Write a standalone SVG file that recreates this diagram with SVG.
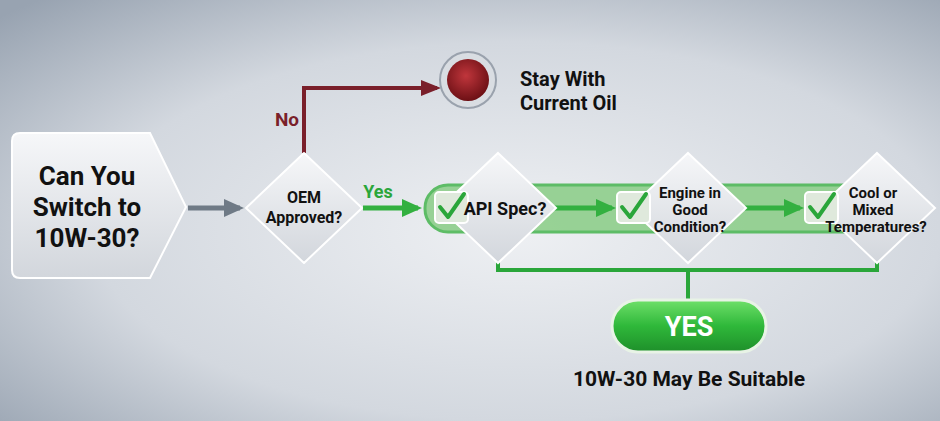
<svg xmlns="http://www.w3.org/2000/svg" width="940" height="421" viewBox="0 0 940 421">
<defs>
<radialGradient id="bg" cx="0.55" cy="0.55" r="0.75"><stop offset="0" stop-color="#eef0f3"/><stop offset="0.6" stop-color="#d3d8df"/><stop offset="1" stop-color="#98a3b1"/></radialGradient>
<linearGradient id="node" x1="0" y1="0" x2="0" y2="1"><stop offset="0" stop-color="#f6f7f9"/><stop offset="1" stop-color="#d2d6dc"/></linearGradient>
<linearGradient id="pill" x1="0" y1="0" x2="0" y2="1"><stop offset="0" stop-color="#6fe06a"/><stop offset="0.5" stop-color="#2fb83a"/><stop offset="1" stop-color="#1e8f2a"/></linearGradient>
<radialGradient id="red" cx="0.45" cy="0.4" r="0.6"><stop offset="0" stop-color="#c0363c"/><stop offset="1" stop-color="#6d1015"/></radialGradient>
<marker id="ag" markerWidth="20" markerHeight="20" refX="16" refY="10" orient="auto" markerUnits="userSpaceOnUse"><path d="M0,1 L20,10 L0,19 z" fill="#33b040"/></marker>
<marker id="agr" markerWidth="20" markerHeight="20" refX="16" refY="10" orient="auto" markerUnits="userSpaceOnUse"><path d="M0,1 L20,10 L0,19 z" fill="#6f7a86"/></marker>
<marker id="ar" markerWidth="20" markerHeight="20" refX="16" refY="10" orient="auto" markerUnits="userSpaceOnUse"><path d="M0,2 L20,10 L0,18 z" fill="#7a1f2a"/></marker>
</defs>
<style>
text{font-family:"Roboto","Liberation Sans",sans-serif;font-weight:bold;text-anchor:middle;fill:#111}
.d{fill:url(#node);stroke:#fff;stroke-width:2}
.cb{fill:#dfe9dc;stroke:#fff;stroke-width:2}
.ck{fill:none;stroke:#2aa63a;stroke-width:4;stroke-linecap:round;stroke-linejoin:round}
</style>
<rect width="940" height="421" fill="url(#bg)"/>
<g id="band"><rect x="425" y="185" width="485" height="47" rx="23" fill="#8fcf8c" stroke="#4fb858" stroke-width="3" opacity="0.9"/></g>
<g id="connectors" fill="none">
<line x1="188" y1="208" x2="240" y2="208" stroke="#6f7a86" stroke-width="5" marker-end="url(#agr)"/>
<polyline points="304,153 304,88 437,88" stroke="#7a1f2a" stroke-width="4" marker-end="url(#ar)"/>
<line x1="363" y1="208" x2="418" y2="208" stroke="#33b040" stroke-width="5" marker-end="url(#ag)"/>
<line x1="553" y1="208" x2="612" y2="208" stroke="#33b040" stroke-width="5" marker-end="url(#ag)"/>
<line x1="745" y1="208" x2="800" y2="208" stroke="#33b040" stroke-width="5" marker-end="url(#ag)"/>
<polyline points="498,262 498,270 877,270 877,262" stroke="#2aa63a" stroke-width="4"/>
<line x1="688" y1="270" x2="688" y2="302" stroke="#2aa63a" stroke-width="4"/>
</g>
<text x="287" y="126" font-size="19" style="fill:#7a1f2a">No</text>
<text x="378" y="198" font-size="18" style="fill:#2aa63a">Yes</text>
<g id="start">
<path d="M20,133 H150 L186,207 L150,278 H20 Q12,278 12,270 V141 Q12,133 20,133 Z" class="d"/>
<text x="87" y="185" font-size="26">Can You</text>
<text x="87" y="216" font-size="26">Switch to</text>
<text x="87" y="247" font-size="26">10W-30?</text>
</g>
<g id="oem"><path d="M304,153 L362,208 L304,263 L246,208 Z" class="d" stroke-linejoin="round"/>
<text x="304" y="203" font-size="16">OEM</text><text x="304" y="223" font-size="16">Approved?</text></g>
<g id="stay"><circle cx="468" cy="80" r="28" fill="#d9dde2" stroke="#9aa2ad" stroke-width="2"/><circle cx="468" cy="80" r="21" fill="url(#red)"/>
<text x="520" y="86" font-size="20" style="text-anchor:start">Stay With</text><text x="520" y="110" font-size="20" style="text-anchor:start">Current Oil</text></g>
<g id="api"><path d="M498,153 L556,208 L498,263 L440,208 Z" class="d"/>
<rect x="435" y="192" width="33" height="31" rx="4" class="cb"/><path d="M440,207 L448,217 L464,194" class="ck"/>
<text x="505" y="215" font-size="18">API Spec?</text></g>
<g id="engine"><path d="M688,153 L746,208 L688,263 L630,208 Z" class="d"/>
<rect x="617" y="192" width="33" height="31" rx="4" class="cb"/><path d="M622,207 L630,217 L646,194" class="ck"/>
<text x="690" y="198" font-size="15">Engine in</text><text x="690" y="215" font-size="15">Good</text><text x="690" y="232" font-size="15">Condition?</text></g>
<g id="cool"><path d="M877,153 L935,208 L877,263 L819,208 Z" class="d"/>
<rect x="805" y="192" width="33" height="31" rx="4" class="cb"/><path d="M810,207 L818,217 L834,194" class="ck"/>
<text x="873" y="198" font-size="15">Cool or</text><text x="873" y="215" font-size="15">Mixed</text><text x="876" y="232" font-size="15">Temperatures?</text></g>
<g id="yes"><rect x="612" y="300" width="154" height="52" rx="26" fill="url(#pill)" stroke="#e8f3e6" stroke-width="3"/>
<text x="689" y="336" font-size="27" style="fill:#fff">YES</text>
<text x="689" y="386" font-size="21">10W-30 May Be Suitable</text></g>
</svg>
